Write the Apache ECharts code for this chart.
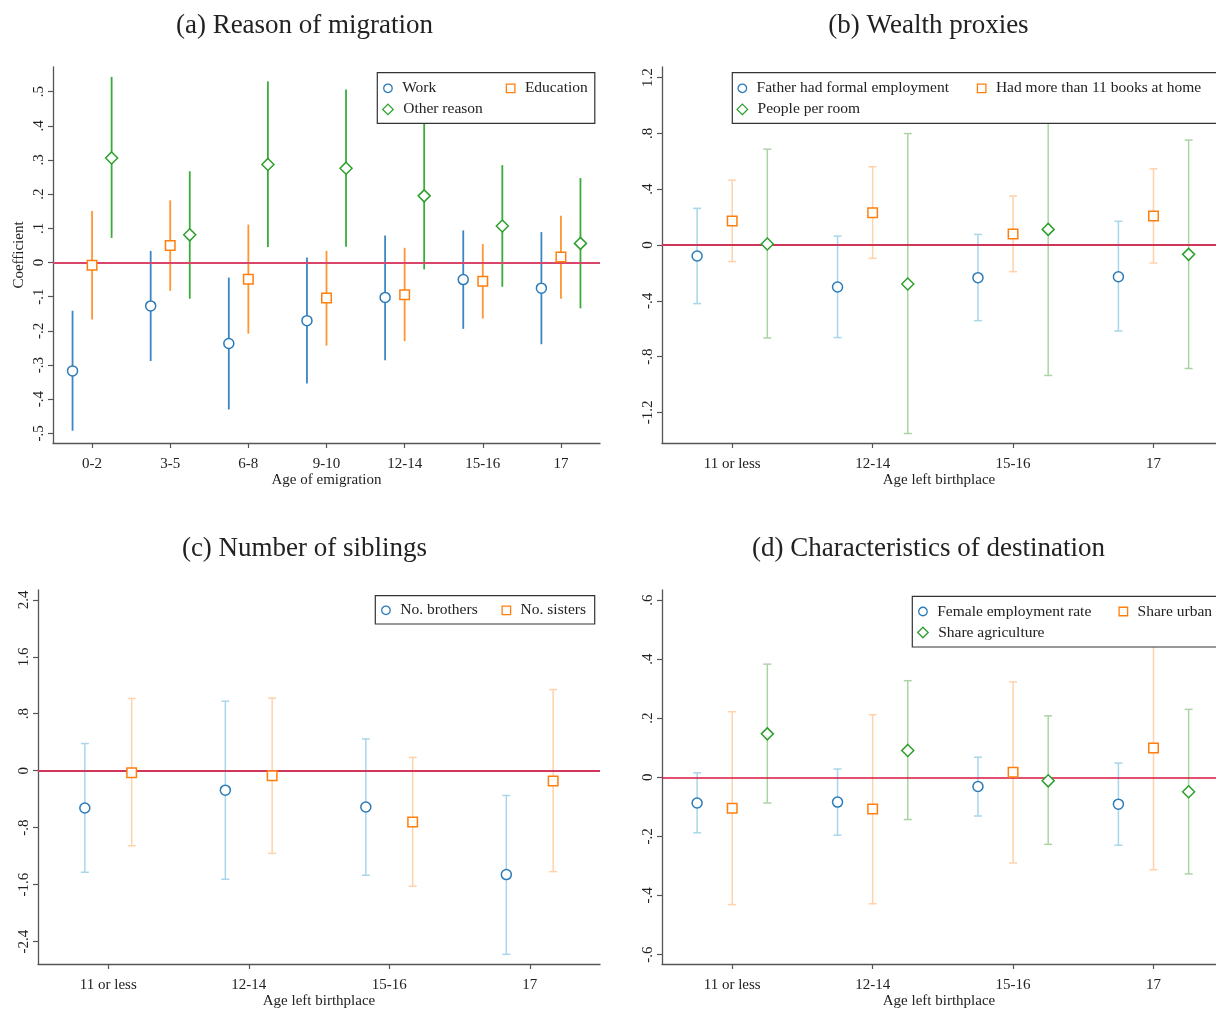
<!DOCTYPE html>
<html><head><meta charset="utf-8">
<script src="https://cdn.jsdelivr.net/npm/echarts@6/dist/echarts.min.js"></script>
<style>html,body{margin:0;padding:0;background:#fff}#c{width:1216px;height:1010px}</style>
</head><body><div id="c"></div>
<script>
// ---------- Panel (a) Reason of migration ----------
const catsA = ['0-2','3-5','6-8','9-10','12-14','15-16','17'];
const workPt = [-0.317,-0.127,-0.237,-0.170,-0.102,-0.050,-0.075];
const workLo = [-0.492,-0.288,-0.430,-0.354,-0.286,-0.194,-0.239];
const workHi = [-0.141,0.034,-0.044,0.015,0.079,0.094,0.089];
const eduPt = [-0.008,0.050,-0.049,-0.104,-0.094,-0.055,0.016];
const eduLo = [-0.167,-0.083,-0.208,-0.243,-0.230,-0.164,-0.106];
const eduHi = [0.151,0.182,0.111,0.034,0.043,0.054,0.137];
const othPt = [0.306,0.081,0.287,0.276,0.195,0.107,0.056];
const othLo = [0.072,-0.106,0.045,0.046,-0.020,-0.071,-0.134];
const othHi = [0.543,0.267,0.530,0.506,0.410,0.285,0.247];
const ticksA = [-0.5,-0.4,-0.3,-0.2,-0.1,0,0.1,0.2,0.3,0.4,0.5];
const tickLabelsA = ['-.5','-.4','-.3','-.2','-.1','0','.1','.2','.3','.4','.5'];

// ---------- Panel (b) Wealth proxies ----------
const catsB = ['11 or less','12-14','15-16','17'];
const fathPt = [-0.079,-0.301,-0.234,-0.227];
const fathLo = [-0.420,-0.663,-0.542,-0.616];
const fathHi = [0.263,0.064,0.076,0.170];
const bookPt = [0.172,0.231,0.079,0.208];
const bookLo = [-0.119,-0.095,-0.191,-0.129];
const bookHi = [0.465,0.561,0.351,0.546];
const roomPt = [0.007,-0.279,0.112,-0.067];
const roomLo = [-0.666,-1.351,-0.935,-0.885];
const roomHi = [0.687,0.799,1.160,0.752];
const ticksB = [-1.2,-0.8,-0.4,0,0.4,0.8,1.2];
const tickLabelsB = ['-1.2','-.8','-.4','0','.4','.8','1.2'];

// ---------- Panel (c) Number of siblings ----------
const catsC = ['11 or less','12-14','15-16','17'];
const broPt = [-0.525,-0.274,-0.511,-1.460];
const broLo = [-1.427,-1.525,-1.469,-2.580];
const broHi = [0.381,0.976,0.446,-0.349];
const sisPt = [-0.028,-0.070,-0.721,-0.144];
const sisLo = [-1.056,-1.162,-1.623,-1.418];
const sisHi = [1.014,1.018,0.186,1.139];
const ticksC = [-2.4,-1.6,-0.8,0,0.8,1.6,2.4];
const tickLabelsC = ['-2.4','-1.6','-.8','0','.8','1.6','2.4'];

// ---------- Panel (d) Characteristics of destination ----------
const catsD = ['11 or less','12-14','15-16','17'];
const femPt = [-0.087,-0.084,-0.031,-0.091];
const femLo = [-0.188,-0.196,-0.131,-0.230];
const femHi = [0.015,0.028,0.068,0.048];
const urbPt = [-0.105,-0.107,0.017,0.099];
const urbLo = [-0.431,-0.428,-0.290,-0.313];
const urbHi = [0.222,0.212,0.323,0.511];
const agrPt = [0.147,0.091,-0.012,-0.049];
const agrLo = [-0.087,-0.143,-0.227,-0.327];
const agrHi = [0.383,0.327,0.208,0.230];
const ticksD = [-0.6,-0.4,-0.2,0,0.2,0.4,0.6];
const tickLabelsD = ['-.6','-.4','-.2','0','.2','.4','.6'];

// ---------- styling / layout ----------
const FONT = 'Liberation Serif, Times New Roman, serif';
const MARK = {blue:'#2b7bba', orange:'#ff7f0e', green:'#2ca02c'};
const CI_STRONG = {blue:'#3b86c4', orange:'#ff9535', green:'#3aab3a'};
const CI_LIGHT = {blue:'#a9d6ea', orange:'#ffd2ab', green:'#abd4a4'};
const SYM = {blue:'circle', orange:'rect', green:'diamond'};
const SYMSIZE = {blue:10, orange:9.5, green:12};
const LEGSIZE = {blue:8.5, orange:8.5, green:10.5};
const AXC = '#555';

const panels = [
  {grid:{left:53,top:67,width:547,height:376}, cats:catsA, xr:[-0.5,6.5], yr:[-0.528,0.572],
   ticks:ticksA, tlabels:tickLabelsA, xname:'Age of emigration', yname:'Coefficient',
   caps:false, offsets:[-0.25,0,0.25], zero:{color:'#d8466b', width:2},
   title:{text:'(a) Reason of migration', cx:304.5, top:12},
   box:{x:377.3,y:72.7,w:217.5,h:50.6},
   series:[
     {name:'Work', pt:workPt, lo:workLo, hi:workHi, c:'blue', leg:[387.3,88.3]},
     {name:'Education', pt:eduPt, lo:eduLo, hi:eduHi, c:'orange', leg:[510,88.3]},
     {name:'Other reason', pt:othPt, lo:othLo, hi:othHi, c:'green', leg:[387.3,109.4]}]},
  {grid:{left:662,top:67,width:554,height:376}, cats:catsB, xr:[-0.5,3.445], yr:[-1.419,1.276],
   ticks:ticksB, tlabels:tickLabelsB, xname:'Age left birthplace', yname:'',
   caps:true, offsets:[-0.25,0,0.25], zero:{color:'#cf3558', width:2},
   title:{text:'(b) Wealth proxies', cx:928.5, top:12},
   box:{x:732.3,y:72.7,w:520,h:50.6},
   series:[
     {name:'Father had formal employment', pt:fathPt, lo:fathLo, hi:fathHi, c:'blue', leg:[741.7,88.3]},
     {name:'Had more than 11 books at home', pt:bookPt, lo:bookLo, hi:bookHi, c:'orange', leg:[981,88.3]},
     {name:'People per room', pt:roomPt, lo:roomLo, hi:roomHi, c:'green', leg:[741.7,109.4]}]},
  {grid:{left:38,top:590,width:562,height:377}, cats:catsC, xr:[-0.5,3.5], yr:[-2.716,2.538],
   ticks:ticksC, tlabels:tickLabelsC, xname:'Age left birthplace', yname:'',
   caps:true, offsets:[-1/6,1/6], zero:{color:'#d2365c', width:2},
   title:{text:'(c) Number of siblings', cx:304.5, top:535},
   box:{x:375.3,y:595.7,w:219.4,h:28.3},
   series:[
     {name:'No. brothers', pt:broPt, lo:broLo, hi:broHi, c:'blue', leg:[385.3,610.3]},
     {name:'No. sisters', pt:sisPt, lo:sisLo, hi:sisHi, c:'orange', leg:[505.7,610.3]}]},
  {grid:{left:662,top:590,width:554,height:377}, cats:catsD, xr:[-0.5,3.445], yr:[-0.632,0.634],
   ticks:ticksD, tlabels:tickLabelsD, xname:'Age left birthplace', yname:'',
   caps:true, offsets:[-0.25,0,0.25], zero:{color:'#d7163e', width:1.5},
   title:{text:'(d) Characteristics of destination', cx:928.5, top:535},
   box:{x:912.3,y:596.3,w:340,h:50.7},
   series:[
     {name:'Female employment rate', pt:femPt, lo:femLo, hi:femHi, c:'blue', leg:[922.3,611.5]},
     {name:'Share urban', pt:urbPt, lo:urbLo, hi:urbHi, c:'orange', leg:[1122.7,611.5]},
     {name:'Share agriculture', pt:agrPt, lo:agrLo, hi:agrHi, c:'green', leg:[922.3,632.5]}]}
];

function ciRenderer(color, width, cap) {
  return function (params, api) {
    const x = api.value(0);
    const a = api.coord([x, api.value(1)]);
    const b = api.coord([x, api.value(2)]);
    const st = {stroke: color, lineWidth: width};
    const ch = [{type:'line', shape:{x1:a[0], y1:a[1], x2:b[0], y2:b[1]}, style:st}];
    if (cap) {
      ch.push({type:'line', shape:{x1:a[0]-cap, y1:a[1], x2:a[0]+cap, y2:a[1]}, style:st});
      ch.push({type:'line', shape:{x1:b[0]-cap, y1:b[1], x2:b[0]+cap, y2:b[1]}, style:st});
    }
    return {type:'group', children: ch};
  };
}

const option = {
  backgroundColor:'#fff', animation:false,
  grid:[], xAxis:[], yAxis:[], series:[], legend:[], title:[],
  graphic:{elements:[]}
};

panels.forEach((p, gi) => {
  option.grid.push(p.grid);
  const idx = p.cats.map((_, i) => i);
  option.xAxis.push({
    type:'value', gridIndex:gi, min:p.xr[0], max:p.xr[1],
    name:p.xname, nameLocation:'middle', nameGap:30,
    nameTextStyle:{fontFamily:FONT, fontSize:15, color:'#222'},
    axisLine:{show:true, onZero:false, lineStyle:{color:AXC, width:1.3}},
    axisTick:{show:true, customValues:idx, length:5, lineStyle:{color:AXC, width:1.2}},
    axisLabel:{customValues:idx, margin:14, fontFamily:FONT, fontSize:15, color:'#222',
      formatter:(v) => p.cats[Math.round(v)]},
    splitLine:{show:false}
  });
  option.yAxis.push({
    type:'value', gridIndex:gi, min:p.yr[0], max:p.yr[1],
    name:p.yname, nameLocation:'middle', nameGap:26,
    nameTextStyle:{fontFamily:FONT, fontSize:15, color:'#222'},
    axisLine:{show:true, onZero:false, lineStyle:{color:AXC, width:1.3}},
    axisTick:{show:true, customValues:p.ticks, length:5, lineStyle:{color:AXC, width:1.2}},
    axisLabel:{customValues:p.ticks, rotate:90, margin:6, fontFamily:FONT, fontSize:15, color:'#222',
      formatter:(v) => { const k = p.ticks.findIndex(t => Math.abs(t - v) < 1e-6); return k >= 0 ? p.tlabels[k] : ''; }},
    splitLine:{show:false}
  });
  option.title.push({
    text:p.title.text, left:p.title.cx, top:p.title.top, textAlign:'center', padding:0,
    textStyle:{fontFamily:FONT, fontSize:27, fontWeight:'normal', color:'#222'}
  });
  option.graphic.elements.push({
    type:'rect', z:50, shape:{x:p.box.x, y:p.box.y, width:p.box.w, height:p.box.h},
    style:{fill:'#fff', stroke:'#333', lineWidth:1.2}
  });
  p.series.forEach((s, si) => {
    const off = p.offsets[si];
    const ciData = s.pt.map((_, i) => [i + off, s.lo[i], s.hi[i]]);
    const ptData = s.pt.map((v, i) => [i + off, v]);
    option.series.push({
      type:'custom', name:s.name + ' CI', xAxisIndex:gi, yAxisIndex:gi, z:2,
      renderItem: ciRenderer(p.caps ? CI_LIGHT[s.c] : CI_STRONG[s.c], p.caps ? 1.5 : 1.8, p.caps ? 4 : 0),
      encode:{x:0, y:[1,2]}, data:ciData, silent:true
    });
    const sc = {
      type:'scatter', name:s.name, xAxisIndex:gi, yAxisIndex:gi, z:4,
      symbol:SYM[s.c], symbolSize:SYMSIZE[s.c],
      itemStyle:{color:'#fff', borderColor:MARK[s.c], borderWidth:1.5, opacity:1},
      data:ptData, silent:true
    };
    if (si === 0) {
      sc.markLine = {silent:true, symbol:'none', label:{show:false}, z:3,
        lineStyle:{color:p.zero.color, width:p.zero.width, type:'solid'}, data:[{yAxis:0}]};
    }
    option.series.push(sc);
    const ls = LEGSIZE[s.c];
    option.legend.push({
      left: s.leg[0] - ls/2, top: s.leg[1] - 9, padding:0, z:60, selectedMode:false,
      itemWidth:ls, itemHeight:ls,
      textStyle:{fontFamily:FONT, fontSize:15.5, color:'#222', lineHeight:18, padding:[0,0,0,5]},
      data:[{name:s.name, icon:SYM[s.c], itemStyle:{color:'#fff', borderColor:MARK[s.c], borderWidth:1.3}}]
    });
  });
});

const chart = echarts.init(document.getElementById('c'), null, {renderer:'canvas'});
chart.setOption(option);
</script>
</body></html>
